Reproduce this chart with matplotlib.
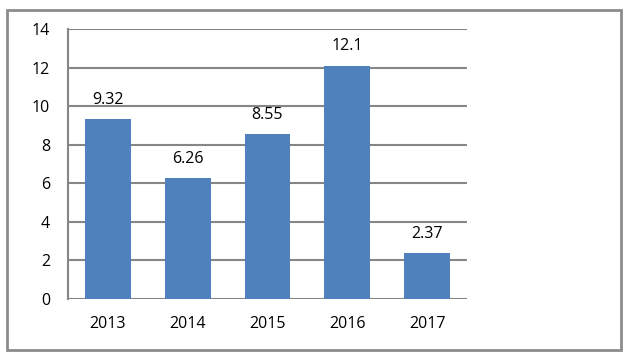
import matplotlib.pyplot as plt
from matplotlib.patches import Rectangle

years = ["2013", "2014", "2015", "2016", "2017"]
values = [9.32, 6.26, 8.55, 12.1, 2.37]
labels = ["9.32", "6.26", "8.55", "12.1", "2.37"]

plt.rcParams['font.family'] = ['Open Sans', 'DejaVu Sans']

fig = plt.figure(figsize=(6.3, 3.58), dpi=100)
# outer chart border
fig.patches.append(Rectangle((7 / 630, 8 / 358), 614 / 630, 340 / 358,
                             transform=fig.transFigure, fill=False,
                             edgecolor="#8c8c8c", linewidth=2))

ax = fig.add_axes([68 / 630, 1 - 299 / 358, 399 / 630, 270 / 358])
x = range(len(years))
ax.bar(x, values, width=0.575, color="#4f81bd", zorder=3)
for i, v in enumerate(values):
    ax.text(i, v + 1.0, labels[i], ha="center", va="center", fontsize=11.5)

ax.set_xlim(-0.5, 4.5)
ax.set_ylim(0, 14)
ax.set_yticks(range(0, 15, 2))
ax.set_xticks(list(x))
ax.set_xticklabels(years)
ax.yaxis.grid(True, color="#868686", linewidth=1.5, zorder=0)
for s in ["top", "right", "bottom"]:
    ax.spines[s].set_visible(False)
ax.spines["left"].set_color("#868686")
ax.spines["left"].set_linewidth(1.5)
ax.tick_params(axis="both", length=0, labelsize=11.5)
ax.tick_params(axis="y", pad=13)
ax.tick_params(axis="x", pad=12)

fig.savefig("out.png", dpi=100)
